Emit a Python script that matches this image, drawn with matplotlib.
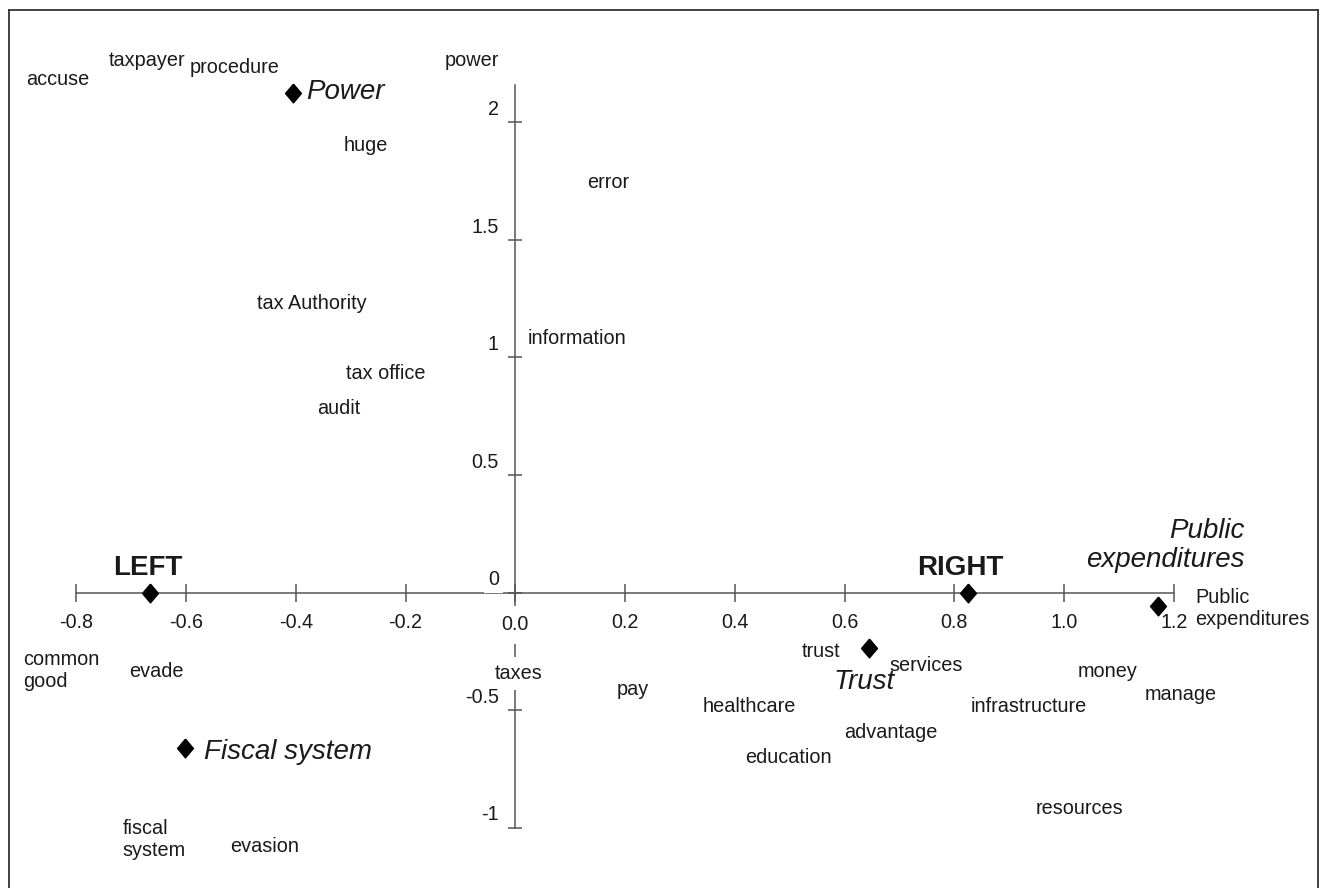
import numpy as np
import matplotlib
matplotlib.use('Agg')
import matplotlib.pyplot as plt
from matplotlib.lines import Line2D

plt.rcParams['font.family'] = ['Liberation Sans', 'DejaVu Sans']

# word coordinates (left edge, vertical centre of the label)
words = ['accuse', 'taxpayer', 'procedure', 'power', 'huge', 'error',
         'tax Authority', 'information', 'tax office', 'audit',
         'common\ngood', 'evade', 'taxes', 'pay', 'fiscal\nsystem', 'evasion',
         'Public\nexpenditures', 'trust', 'services', 'money', 'manage',
         'healthcare', 'infrastructure', 'advantage', 'education', 'resources']
word_x = [-0.892, -0.741, -0.593, -0.128, -0.312, 0.131,
          -0.470, 0.023, -0.308, -0.362,
          -0.897, -0.704, -0.038, 0.185, -0.715, -0.519,
          1.239, 0.522, 0.681, 1.024, 1.147,
          0.342, 0.829, 0.599, 0.419, 0.949]
word_y = [2.185, 2.262, 2.236, 2.262, 1.904, 1.743,
          1.228, 1.079, 0.930, 0.781,
          -0.330, -0.338, -0.343, -0.412, -1.049, -1.079,
          -0.070, -0.253, -0.309, -0.338, -0.436,
          -0.487, -0.487, -0.594, -0.700, -0.921]

# category points (diamonds)
cats = ['LEFT', 'RIGHT', 'Power', 'Fiscal system', 'Trust', 'Public\nexpenditures']
cat_x = [-0.666, 0.825, -0.405, -0.602, 0.644, 1.171]
cat_y = [0.0, 0.0, 2.126, -0.662, -0.236, -0.057]
# where the category names sit
cat_lx = [-0.670, 0.810, -0.381, -0.567, 0.635, 1.328]
cat_ly = [0.105, 0.105, 2.130, -0.679, -0.381, 0.198]

xticks = [-0.8, -0.6, -0.4, -0.2, 0.0, 0.2, 0.4, 0.6, 0.8, 1.0, 1.2]
yticks = [-1, -0.5, 0, 0.5, 1, 1.5, 2]
y_top = 2.16

W, H = 1320, 888
x0, sx = 515.3, 548.8
y0, sy = 592.5, 235.0

fig = plt.figure(figsize=(W / 100, H / 100), dpi=100)
ax = fig.add_axes([0, 0, 1, 1])
ax.set_xlim(-x0 / sx, (W - x0) / sx)
ax.set_ylim(-(H - y0) / sy, y0 / sy)
ax.axis('off')

ink = '#1a1a1a'
axc = '#555555'

# axes
ax.plot([xticks[0], xticks[-1]], [0, 0], color=axc, lw=1.1, zorder=1)
ax.plot([0, 0], [yticks[0], y_top], color=axc, lw=1.1, zorder=1)
ax.plot(xticks, np.zeros(len(xticks)), ls='none', marker='|', ms=13,
        mew=1.1, color=axc, zorder=1)
ax.plot(np.zeros(len(yticks)), yticks, ls='none', marker='_', ms=10,
        mew=1.1, color=axc, zorder=1)

for t in xticks:
    lab = '%.1f' % t
    if t == 0:
        ax.text(t, -0.138, lab, ha='center', va='center', fontsize=14.2,
                color=ink, bbox=dict(facecolor='white', edgecolor='none', pad=7),
                zorder=3)
    else:
        ax.text(t, -0.126, lab, ha='center', va='center', fontsize=14.2,
                color=ink, zorder=3)

for t in yticks:
    lab = '%g' % t
    kw = {}
    if t == 0:
        kw['bbox'] = dict(facecolor='white', edgecolor='none', pad=3)
    ax.text(-0.030, t + 0.055, lab, ha='right', va='center', fontsize=14.2,
            color=ink, zorder=5, **kw)

# words
for w, x, y in zip(words, word_x, word_y):
    kw = {}
    if w == 'taxes':
        kw['bbox'] = dict(facecolor='white', edgecolor='none', pad=5)
    ax.text(x, y, w, ha='left', va='center', fontsize=14.3, color=ink,
            linespacing=1.2, zorder=3, **kw)

# category diamonds
diamond = [(0, 1), (0.85, 0), (0, -1), (-0.85, 0), (0, 1)]
ax.plot(cat_x, cat_y, ls='none', marker=diamond, ms=13.5, color='black',
        zorder=4)

for c, x, y in zip(cats, cat_lx, cat_ly):
    if c in ('LEFT', 'RIGHT'):
        ax.text(x, y, c, ha='center', va='center', fontsize=20,
                fontweight='bold', color=ink, zorder=3)
    elif c == 'Trust':
        ax.text(x, y, c, ha='center', va='center', fontsize=20,
                style='italic', color=ink, zorder=3)
    elif c.startswith('Public'):
        ax.text(x, y, c, ha='right', va='center', fontsize=20,
                style='italic', color=ink, multialignment='right',
                linespacing=1.15, zorder=3)
    else:
        ax.text(x, y, c, ha='left', va='center', fontsize=20,
                style='italic', color=ink, zorder=3)

# frame around the picture (cut off at the bottom)
fl, ft, fr = 9 / W, 1 - 10 / H, 1318 / W
for xs, ys in [([fl, fr], [ft, ft]), ([fl, fl], [ft, 0]), ([fr, fr], [ft, 0])]:
    fig.add_artist(Line2D(xs, ys, color='#333333', lw=1.3,
                          transform=fig.transFigure))

fig.savefig('out.png', dpi=100, facecolor='white')
